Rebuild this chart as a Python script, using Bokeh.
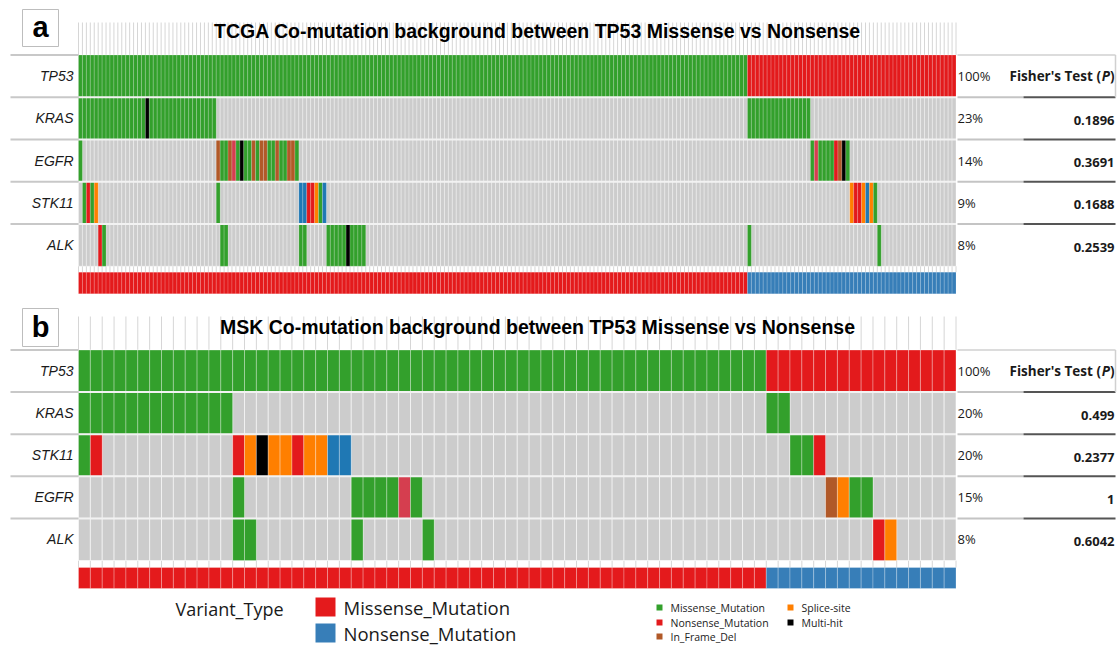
from bokeh.plotting import figure
from bokeh.models import Range1d
from bokeh.layouts import column
from bokeh.embed import file_html
from bokeh.resources import INLINE
from bokeh.core.properties import value

# ---------------- DATA ----------------
variant_colors = {"M": "#33A02C", "N": "#E31A1C", "D": "#B15928", "I": "#D53E4F",
                  "S": "#FF7F00", "F": "#1F78B4", "H": "#000000"}
group_names = ["Missense_Mutation", "Nonsense_Mutation"]
group_colors = ["#E41A1C", "#377EB8"]

# TCGA panel
tcga_title = "TCGA Co-mutation background between TP53 Missense vs Nonsense"
tcga_genes = ["TP53", "KRAS", "EGFR", "STK11", "ALK"]
tcga_freq = ["100%", "23%", "14%", "9%", "8%"]
tcga_pval = ["", "0.1896", "0.3691", "0.1688", "0.2539"]
tcga_n_missense = 170
tcga_n_nonsense = 53
# runs: (first sample column, number of samples, variant code)
tcga_tp53 = [(0, 170, "M"), (170, 53, "N")]
tcga_kras = [(0, 17, "M"), (17, 1, "H"), (18, 17, "M"), (170, 16, "M")]
tcga_egfr = [(0, 1, "M"), (35, 1, "D"), (36, 2, "M"), (38, 1, "D"), (39, 1, "I"), (40, 1, "M"),
             (41, 1, "H"), (42, 2, "M"), (44, 1, "D"), (45, 1, "M"), (46, 2, "D"), (48, 2, "M"),
             (50, 1, "D"), (51, 2, "M"), (53, 2, "D"), (55, 1, "M"),
             (186, 1, "M"), (187, 1, "I"), (188, 4, "M"), (192, 1, "N"), (193, 1, "D"),
             (194, 1, "H"), (195, 1, "M")]
tcga_stk11 = [(1, 1, "M"), (2, 1, "N"), (3, 1, "M"), (4, 1, "S"), (35, 1, "M"), (56, 2, "F"),
              (58, 2, "N"), (60, 1, "S"), (61, 1, "M"), (62, 1, "F"), (196, 1, "S"),
              (197, 2, "N"), (199, 1, "S"), (200, 1, "F"), (201, 1, "S"), (202, 1, "M")]
tcga_alk = [(5, 1, "N"), (6, 1, "M"), (36, 2, "M"), (56, 2, "M"), (63, 5, "M"), (68, 1, "H"),
            (69, 4, "M"), (170, 1, "M"), (203, 1, "M")]

# MSK panel
msk_title = "MSK Co-mutation background between TP53 Missense vs Nonsense"
msk_genes = ["TP53", "KRAS", "STK11", "EGFR", "ALK"]
msk_freq = ["100%", "20%", "20%", "15%", "8%"]
msk_pval = ["", "0.499", "0.2377", "1", "0.6042"]
msk_n_missense = 58
msk_n_nonsense = 16
msk_tp53 = [(0, 58, "M"), (58, 16, "N")]
msk_kras = [(0, 13, "M"), (58, 2, "M")]
msk_stk11 = [(0, 1, "M"), (1, 1, "N"), (13, 1, "N"), (14, 1, "S"), (15, 1, "H"), (16, 2, "S"),
             (18, 1, "N"), (19, 2, "S"), (21, 2, "F"), (60, 2, "M"), (62, 1, "N")]
msk_egfr = [(13, 1, "M"), (23, 4, "M"), (27, 1, "I"), (28, 1, "M"), (63, 1, "D"), (64, 1, "S"),
            (65, 2, "M")]
msk_alk = [(13, 2, "M"), (23, 1, "M"), (29, 1, "M"), (67, 1, "N"), (68, 1, "S")]

# legend
legend_title = "Variant_Type"
legend_small_col1 = [("M", "Missense_Mutation"), ("N", "Nonsense_Mutation"), ("D", "In_Frame_Del")]
legend_small_col2 = [("S", "Splice-site"), ("H", "Multi-hit")]

# ---------------- LAYOUT ----------------
FIG_W = 1120
PAGE_M = 0
GX0, GX1 = 78.0, 955.5
SANS = "Liberation Sans"
OPEN = "Open Sans"


def build_panel(tag, title, genes, freqs, pvals, runs, n_mis, n_non, top, height,
                grid_top, grid_bot, tick_top, ann_top, ann_bot, title_y, tag_y0, tag_y1,
                cell_lw, with_legend=False):
    n = n_mis + n_non
    nr = len(genes)
    cw = (GX1 - GX0) / n
    rh = (grid_bot - grid_top) / nr

    def X(sx):
        return (sx - GX0) / cw

    def Y(sy):
        return (sy - grid_top) / rh

    p = figure(width=FIG_W, height=height,
               x_range=Range1d(X(PAGE_M), X(PAGE_M + FIG_W)),
               y_range=Range1d(Y(top + height), Y(top)),
               output_backend="svg", toolbar_location=None, min_border=0,
               x_axis_location=None, y_axis_location=None, outline_line_color=None)
    p.grid.visible = False
    p.background_fill_color = "white"
    p.border_fill_color = "white"

    cols = list(range(n + 1))
    # vertical guide lines above and below grid
    p.segment(x0=cols, y0=[Y(tick_top)] * len(cols), x1=cols, y1=[0] * len(cols),
              line_color="#D6D6D6", line_width=1)
    p.segment(x0=cols, y0=[nr] * len(cols), x1=cols, y1=[Y(ann_top)] * len(cols),
              line_color="#D6D6D6", line_width=1)

    # background cells
    bx, by = [], []
    for r in range(nr):
        for i in range(n):
            bx.append(i + 0.5)
            by.append(r + 0.5)
    p.rect(x=bx, y=by, width=1, height=1, fill_color="#CCCCCC", line_color="white",
           line_alpha=0.55, line_width=cell_lw)

    # mutation cells
    mx, my, mc = [], [], []
    for r, gene_runs in enumerate(runs):
        for start, count, code in gene_runs:
            for i in range(start, start + count):
                mx.append(i + 0.5)
                my.append(r + 0.5)
                mc.append(variant_colors[code])
    p.rect(x=mx, y=my, width=1, height=1, fill_color=mc, line_color="white",
           line_alpha=0.3, line_width=cell_lw)

    # row separators
    p.segment(x0=[0] * (nr - 1), x1=[n] * (nr - 1), y0=list(range(1, nr)),
              y1=list(range(1, nr)), line_color="#F2F2F2", line_width=2)

    # annotation bar
    ax = [i + 0.5 for i in range(n)]
    acol = [group_colors[0] if i < n_mis else group_colors[1] for i in range(n)]
    ay = (Y(ann_top) + Y(ann_bot)) / 2
    p.rect(x=ax, y=[ay] * n, width=1, height=Y(ann_bot) - Y(ann_top), fill_color=acol,
           line_color="white", line_alpha=0.25, line_width=cell_lw)

    # left gene labels + separators
    p.segment(x0=[X(10)] * nr, x1=[0] * nr, y0=list(range(nr)), y1=list(range(nr)),
              line_color="#C8C8C8", line_width=2)
    p.text(x=[X(73)] * nr, y=[r + 0.5 for r in range(nr)], text=genes, text_align="right",
           text_baseline="middle", text_font=value(SANS), text_font_style="italic",
           text_font_size="14px", text_color="#1A1A1A")

    # tag box and title
    p.rect(x=[X(40)], y=[Y((tag_y0 + tag_y1) / 2)], width=36 / cw, height=(tag_y1 - tag_y0) / rh,
           fill_color="white", line_color="#BDBDBD", line_width=1)
    p.text(x=[X(40)], y=[Y((tag_y0 + tag_y1) / 2 - 1)], text=[tag], text_align="center",
           text_baseline="middle", text_font=value(SANS), text_font_style="bold",
           text_font_size="29px", text_color="black")
    p.text(x=[X(537)], y=[Y(title_y)], text=[title], text_align="center",
           text_baseline="middle", text_font=value(SANS), text_font_style="bold",
           text_font_size="19.5px", text_color="black")

    # right table
    p.text(x=[X(957)] * nr, y=[r + 0.5 for r in range(nr)], text=freqs, text_align="left",
           text_baseline="middle", text_font=value(OPEN), text_font_size="13px",
           text_color="#1A1A1A")
    p.text(x=[X(1114)] * nr, y=[r + 0.55 for r in range(nr)], text=pvals, text_align="right",
           text_baseline="middle", text_font=value(OPEN), text_font_style="bold",
           text_font_size="13px", text_color="#1A1A1A")
    p.text(x=[X(1114)], y=[0.5], text=[")"], text_align="right", text_baseline="middle",
           text_font=value(OPEN), text_font_style="bold", text_font_size="13.5px",
           text_color="#1A1A1A")
    p.text(x=[X(1109.5)], y=[0.5], text=["P"], text_align="right", text_baseline="middle",
           text_font=value(OPEN), text_font_style="bold italic", text_font_size="13.5px",
           text_color="#1A1A1A")
    p.text(x=[X(1100.5)], y=[0.5], text=["Fisher's Test ("], text_align="right",
           text_baseline="middle", text_font=value(OPEN), text_font_style="bold",
           text_font_size="13.5px", text_color="#1A1A1A")
    rows = list(range(1, nr))
    p.segment(x0=[X(957)] * len(rows), x1=[X(1023)] * len(rows), y0=rows, y1=rows,
              line_color="#C4C4C4", line_width=2)
    p.segment(x0=[X(1023)] * len(rows), x1=[X(1115)] * len(rows), y0=rows, y1=rows,
              line_color="#555555", line_width=2)
    p.segment(x0=[X(957)], x1=[X(1115)], y0=[0], y1=[0], line_color="#D0D0D0", line_width=1.5)
    p.segment(x0=[X(1115)], x1=[X(1115)], y0=[0], y1=[1], line_color="#D0D0D0", line_width=1.5)

    if with_legend:
        p.text(x=[X(175)], y=[Y(608)], text=[legend_title], text_align="left",
               text_baseline="middle", text_font=value(OPEN), text_font_size="18px",
               text_color="#1A1A1A")
        gy = [Y(606.5), Y(632.5)]
        p.rect(x=[X(325)] * 2, y=gy, width=20 / cw, height=19 / rh, fill_color=group_colors,
               line_color=None)
        p.text(x=[X(343)] * 2, y=gy, text=group_names, text_align="left",
               text_baseline="middle", text_font=value(OPEN), text_font_size="18.5px",
               text_color="#1A1A1A")
        sy = [Y(607), Y(622), Y(636)]
        c1 = [variant_colors[c] for c, _ in legend_small_col1]
        p.rect(x=[X(659)] * 3, y=sy, width=6 / cw, height=6 / rh, fill_color=c1, line_color=None)
        p.text(x=[X(670)] * 3, y=sy, text=[t for _, t in legend_small_col1], text_align="left",
               text_baseline="middle", text_font=value(OPEN), text_font_size="10.5px",
               text_color="#222222")
        c2 = [variant_colors[c] for c, _ in legend_small_col2]
        p.rect(x=[X(790)] * 2, y=sy[:2], width=6 / cw, height=6 / rh, fill_color=c2,
               line_color=None)
        p.text(x=[X(801)] * 2, y=sy[:2], text=[t for _, t in legend_small_col2],
               text_align="left", text_baseline="middle", text_font=value(OPEN),
               text_font_size="10.5px", text_color="#222222")
    return p


pA = build_panel("a", tcga_title, tcga_genes, tcga_freq, tcga_pval,
                 [tcga_tp53, tcga_kras, tcga_egfr, tcga_stk11, tcga_alk],
                 tcga_n_missense, tcga_n_nonsense, top=0, height=300,
                 grid_top=54.5, grid_bot=265.7, tick_top=22, ann_top=271.7, ann_bot=293.3,
                 title_y=30, tag_y0=9, tag_y1=46, cell_lw=0.6)
pB = build_panel("b", msk_title, msk_genes, msk_freq, msk_pval,
                 [msk_tp53, msk_kras, msk_stk11, msk_egfr, msk_alk],
                 msk_n_missense, msk_n_nonsense, top=300, height=346,
                 grid_top=349.5, grid_bot=560.0, tick_top=316, ann_top=567, ann_bot=588,
                 title_y=326, tag_y0=308, tag_y1=346, cell_lw=1, with_legend=True)

layout = column(pA, pB, spacing=0)
open("out.html", "w").write(file_html(layout, INLINE))
